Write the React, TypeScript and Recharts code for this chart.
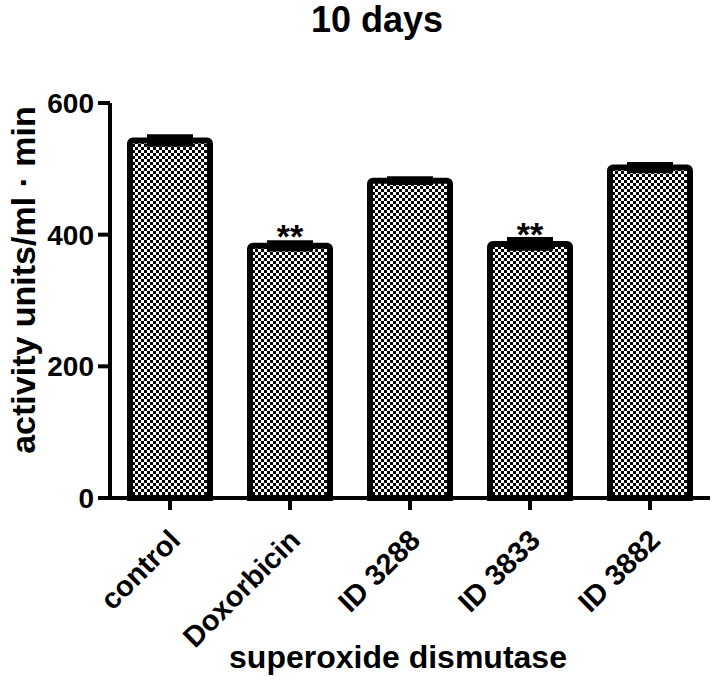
import { BarChart, Bar, XAxis, YAxis, ErrorBar, LabelList } from "recharts";

const groups = ["control", "Doxorbicin", "ID 3288", "ID 3833", "ID 3882"];
const activity = [543, 383, 482, 386, 502];
const sem = [5, 4, 2, 6, 4];
const stars = ["", "**", "", "**", ""];
const yTicks = [0, 200, 400, 600];

const data = groups.map((g, i) => ({
  group: g,
  activity: activity[i],
  err: sem[i],
  sig: stars[i],
}));

const FONT = "'Liberation Sans', Arial, Helvetica, sans-serif";

function XTick(props: any) {
  const { x, y, payload } = props;
  const tx = x + 12;
  const ty = y + 30;
  return (
    <text
      x={tx}
      y={ty}
      transform={`rotate(-45, ${tx}, ${ty})`}
      textAnchor="end"
      fontFamily={FONT}
      fontWeight="bold"
      fontSize={29}
      fill="#000"
    >
      {payload.value}
    </text>
  );
}

function YTick(props: any) {
  const { x, y, payload } = props;
  return (
    <text
      x={x - 2}
      y={y + 10}
      textAnchor="end"
      fontFamily={FONT}
      fontWeight="bold"
      fontSize={28}
      fill="#000"
    >
      {payload.value}
    </text>
  );
}

function StarLabel(props: any) {
  const { x, y, width, value } = props;
  if (!value) return null;
  return (
    <text
      x={x + width / 2}
      y={y + 2}
      textAnchor="middle"
      fontFamily={FONT}
      fontWeight="bold"
      fontSize={34}
      fill="#000"
    >
      {value}
    </text>
  );
}

export default function App() {
  return (
    <div style={{ position: "absolute", left: 0, top: 0, width: 718, height: 694, background: "#fff" }}>
      <BarChart
        width={718}
        height={694}
        data={data}
        margin={{ top: 103, right: 8, left: 0, bottom: 46 }}
      >
        <defs>
          <pattern id="checker" width="6" height="6" patternUnits="userSpaceOnUse">
            <rect width="6" height="6" fill="#fff" />
            <rect x="0" y="0" width="3" height="3" fill="#000" />
            <rect x="3" y="3" width="3" height="3" fill="#000" />
          </pattern>
        </defs>
        <text
          x={377}
          y={32}
          textAnchor="middle"
          fontFamily={FONT}
          fontWeight="bold"
          fontSize={36}
          fill="#000"
        >
          10 days
        </text>
        <text
          x={35}
          y={280}
          transform="rotate(-90, 35, 280)"
          textAnchor="middle"
          fontFamily={FONT}
          fontWeight="bold"
          fontSize={34}
          fill="#000"
        >
          activity units/ml · min
        </text>
        <text
          x={398}
          y={668}
          textAnchor="middle"
          fontFamily={FONT}
          fontWeight="bold"
          fontSize={32}
          fill="#000"
        >
          superoxide dismutase
        </text>
        <XAxis
          dataKey="group"
          height={150}
          interval={0}
          tick={<XTick />}
          axisLine={{ stroke: "#000", strokeWidth: 4 }}
          tickLine={{ stroke: "#000", strokeWidth: 4 }}
          tickSize={12}
        />
        <YAxis
          width={110}
          domain={[0, 600]}
          ticks={yTicks}
          tick={<YTick />}
          axisLine={{ stroke: "#000", strokeWidth: 4 }}
          tickLine={{ stroke: "#000", strokeWidth: 4 }}
          tickSize={12}
        />
        <Bar
          dataKey="activity"
          barSize={80}
          fill="url(#checker)"
          stroke="#000"
          strokeWidth={6}
          radius={[3, 3, 0, 0]}
          isAnimationActive={false}
        >
          <ErrorBar
            dataKey="err"
            width={23}
            stroke="#000"
            strokeWidth={6}
            direction="y"
          />
          <LabelList dataKey="sig" content={<StarLabel />} />
        </Bar>
      </BarChart>
    </div>
  );
}
